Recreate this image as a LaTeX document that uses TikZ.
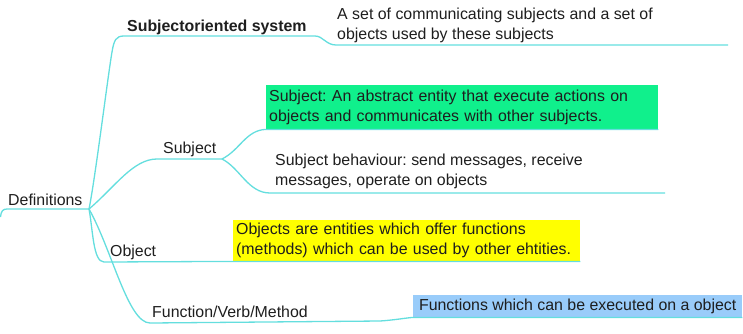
\documentclass[tikz,border=0pt]{standalone}
\usepackage{fontspec}
\setmainfont{Liberation Sans}
\frenchspacing
\definecolor{linec}{RGB}{100,222,222}
\definecolor{greenbox}{RGB}{16,240,140}
\definecolor{yellowbox}{RGB}{255,255,0}
\definecolor{bluebox}{RGB}{153,204,250}
\definecolor{txt}{RGB}{30,30,30}
\newcommand{\mainsize}{\fontsize{15.9}{20}\selectfont}
\begin{document}
\begin{tikzpicture}[x=1pt,y=-1pt,
  branch/.style={draw=linec,line width=1.3pt},
  lbl/.style={anchor=base west,inner sep=0pt,font=\mainsize,text=txt},
  mlbl/.style={anchor=west,inner sep=0pt,font=\mainsize,text=txt,align=left},
  hbox/.style={anchor=north west,inner xsep=3pt,inner ysep=0pt,font=\mainsize,text=txt,align=left}]
\useasboundingbox (0,0) rectangle (743,333);
% texts
\node[lbl] (def) at (8,205) {Definitions};
\node[lbl,font=\mainsize\bfseries] (sos) at (127,31) {Subjectoriented system};
\node[mlbl] (sosd) at (337,25.5) {A set of communicating subjects and a set of\\objects used by these subjects};
\node[lbl] (subj) at (163,153) {Subject};
\node[hbox,fill=greenbox,minimum width=392pt,minimum height=44pt,text width=386pt] (gbox) at (266,85) {Subject: An abstract entity that execute actions on\\objects and communicates with other subjects.};
\node[mlbl] (beh) at (275,171.5) {Subject behaviour: send messages, receive\\messages, operate on objects};
\node[lbl] (obj) at (110,256) {Object};
\node[hbox,fill=yellowbox,minimum width=347pt,minimum height=41pt,text width=341pt] (ybox) at (233,220) {Objects are entities which offer functions\\(methods) which can be used by other ehtities.};
\node[lbl] (fvm) at (152,317) {Function/Verb/Method};
\node[anchor=north west,inner sep=0pt,font=\mainsize,text=txt,fill=bluebox,minimum width=329pt,minimum height=22pt] (bbox) at (413,295) {Functions which can be executed on a object};
% junction points
\coordinate (root) at (89,209);
\coordinate (sj) at (222,159);
% connectors
\draw[branch] (0.5,217) .. controls (1,211) and (3,209) .. (7,209) -- (root);
\draw[branch] (root) .. controls (95,180) and (108,75) .. (112,52)
  .. controls (114,40) and (116,36) .. (124,36) -- (315,36)
  .. controls (323,36) and (326,45) .. (336,45) -- (728,45);
\draw[branch] (root) .. controls (115,187) and (133,159) .. (157,159) -- (sj);
\draw[branch] (sj) .. controls (240,150) and (246,130) .. (gbox.south west) -- (gbox.south east);
\draw[branch] (sj) .. controls (240,168) and (248,193) .. (270,193) -- (665,193);
\draw[branch] (root) .. controls (93,230) and (93,262) .. (104,262) -- (ybox.south west) -- (ybox.south east);
\draw[branch] (root) .. controls (112,250) and (128,323) .. (150,323) -- (380,321)
  .. controls (395,320) and (405,318) .. (bbox.south west) -- (bbox.south east);
\end{tikzpicture}
\end{document}
